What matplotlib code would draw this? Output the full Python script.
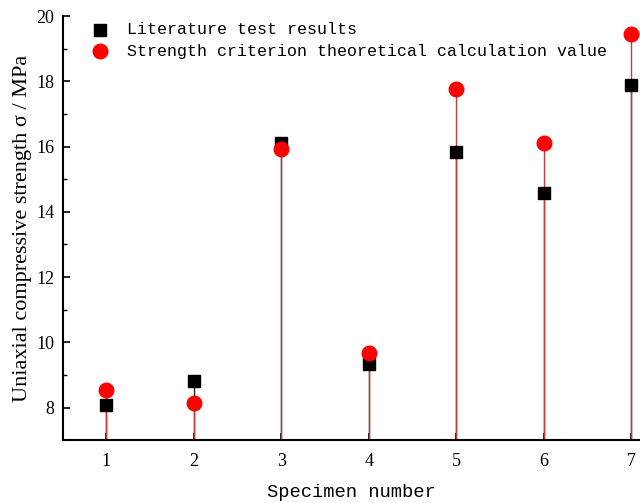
import matplotlib.pyplot as plt

specimen = [1, 2, 3, 4, 5, 6, 7]
test_vals = [8.08, 8.8, 16.12, 9.32, 15.82, 14.58, 17.88]
theory_vals = [8.55, 8.15, 15.92, 9.67, 17.75, 16.1, 19.46]

fig = plt.figure(figsize=(6.4, 5.03), dpi=100)
ax = fig.add_axes([0.098, 0.125, 0.902, 0.843])

# drop lines first, markers on top
ax.vlines(specimen, 7, test_vals, color='#202020', linewidth=1.0, zorder=1)
ax.vlines(specimen, 7, theory_vals, color='#c83c3c', linewidth=1.0, zorder=2)
ax.scatter(specimen, test_vals, marker='s', s=80, color='black', zorder=3,
           label='Literature test results')
ax.scatter(specimen, theory_vals, marker='o', s=110, color='red', zorder=4,
           label='Strength criterion theoretical calculation value')

ax.set_xlim(0.5, 7.1)
ax.set_ylim(7, 20)
ax.set_xticks(specimen)
ax.set_yticks([8, 10, 12, 14, 16, 18, 20])
ax.set_yticks([9, 11, 13, 15, 17, 19], minor=True)
ax.tick_params(direction='in', length=5, width=1.2, labelsize=13)
ax.tick_params(which='minor', direction='in', length=3, width=1.0)
for lbl in ax.get_xticklabels() + ax.get_yticklabels():
    lbl.set_family('Liberation Serif')
ax.tick_params(axis='x', pad=9)
ax.tick_params(axis='y', pad=6)

for s in ['top', 'right']:
    ax.spines[s].set_visible(False)
for s in ['left', 'bottom']:
    ax.spines[s].set_linewidth(1.5)

ax.set_ylabel('Uniaxial compressive strength σ / MPa', family='Liberation Serif',
              fontsize=16, labelpad=3)
ax.set_xlabel('Specimen number', family='Liberation Mono', fontsize=13.5, labelpad=10)

ax.legend(loc='upper left', frameon=False, prop={'family': 'Liberation Mono', 'size': 12},
          handletextpad=0.6, borderaxespad=0.3, labelspacing=0.38,
          bbox_to_anchor=(0.016, 1.013))

fig.savefig('out.png', dpi=100)
